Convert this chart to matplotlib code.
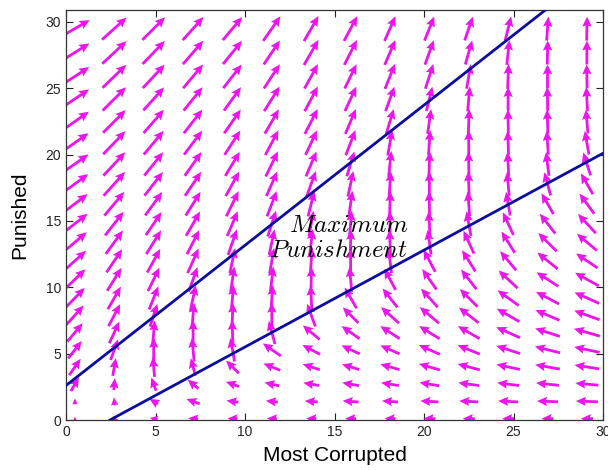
import numpy as np
import matplotlib
matplotlib.use("Agg")
import matplotlib.pyplot as plt

plt.rcParams['mathtext.fontset'] = 'cm'
plt.rcParams['font.family'] = ['Liberation Sans', 'DejaVu Sans']

# grid of arrow centres
x_cols = [0.5, 2.7, 4.9, 7.1, 9.3, 11.5, 13.7, 15.9, 18.1, 20.3, 22.5, 24.7, 26.9, 29.1]
y_rows = [29.5, 27.7, 25.9, 24.2, 22.5, 20.9, 19.3, 17.8, 16.3, 14.8, 13.4,
          12.0, 10.6, 9.2, 7.9, 6.6, 5.3, 4.0, 2.7, 1.4, 0.1]

# arrow direction (degrees, screen space) per column, rows top -> bottom
angle_cols = [
    [30, 32, 33, 34, 35, 35, 35, 36, 37, 38, 40, 42, 44, 46, 48, 50, 52, 55, 60, 90, 90],
    [42, 43, 44, 45, 45, 46, 47, 48, 50, 52, 54, 56, 58, 60, 62, 65, 70, 80, 85, 95, 120],
    [45, 46, 47, 48, 49, 50, 51, 52, 54, 56, 58, 61, 64, 68, 72, 85, 90, 95, 110, 150, 170],
    [48, 49, 50, 51, 52, 53, 55, 56, 58, 60, 63, 66, 70, 78, 85, 90, 95, 105, 140, 160, 175],
    [50, 51, 52, 54, 55, 57, 59, 61, 64, 67, 71, 78, 82, 85, 88, 92, 100, 135, 160, 172, 178],
    [55, 56, 57, 58, 60, 62, 64, 66, 69, 72, 78, 80, 83, 86, 90, 105, 145, 158, 167, 174, 178],
    [60, 60, 61, 62, 63, 65, 67, 70, 76, 80, 83, 86, 89, 93, 110, 140, 152, 162, 170, 176, 179],
    [62, 63, 64, 65, 67, 69, 73, 78, 82, 85, 88, 90, 95, 120, 135, 145, 155, 163, 170, 176, 179],
    [66, 67, 68, 70, 73, 80, 84, 86, 88, 90, 92, 97, 118, 128, 138, 147, 156, 164, 171, 176, 179],
    [68, 70, 72, 76, 82, 86, 88, 90, 91, 93, 98, 118, 125, 132, 140, 148, 156, 164, 171, 177, 179],
    [71, 74, 80, 85, 88, 90, 91, 92, 94, 100, 115, 122, 128, 135, 142, 150, 158, 165, 172, 177, 180],
    [76, 84, 88, 90, 91, 92, 93, 95, 100, 115, 122, 130, 137, 144, 150, 156, 162, 168, 173, 177, 180],
    [86, 89, 90, 91, 92, 94, 97, 105, 120, 128, 135, 141, 147, 152, 157, 162, 166, 170, 174, 178, 180],
    [89, 90, 91, 93, 95, 100, 108, 120, 126, 133, 140, 146, 151, 156, 160, 164, 168, 171, 175, 178, 180],
]

# arrow length (pixels) per column, rows top -> bottom
length_cols = [
    [34, 34, 34, 34, 34, 33, 33, 33, 32, 32, 31, 30, 29, 28, 26, 24, 22, 20, 16, 6, 4],
    [33, 33, 33, 33, 32, 32, 32, 32, 31, 30, 29, 28, 27, 26, 25, 24, 22, 18, 12, 8, 6],
    [32, 32, 32, 31, 31, 31, 30, 30, 29, 28, 28, 27, 26, 25, 24, 24, 24, 20, 14, 10, 8],
    [31, 31, 31, 30, 30, 30, 29, 29, 28, 28, 27, 27, 26, 26, 25, 25, 24, 18, 14, 14, 10],
    [30, 30, 30, 29, 29, 29, 28, 28, 28, 27, 27, 26, 26, 26, 25, 25, 24, 18, 14, 12, 10],
    [30, 29, 29, 29, 28, 28, 28, 27, 27, 27, 26, 26, 26, 26, 25, 24, 22, 18, 15, 12, 10],
    [29, 29, 28, 28, 28, 27, 27, 27, 26, 26, 26, 26, 25, 25, 24, 22, 20, 18, 16, 13, 10],
    [28, 28, 27, 27, 27, 27, 26, 26, 26, 26, 25, 25, 25, 24, 22, 22, 20, 18, 17, 16, 11],
    [27, 27, 27, 26, 26, 26, 26, 25, 25, 25, 25, 25, 24, 24, 24, 23, 21, 20, 18, 16, 11],
    [26, 26, 26, 25, 25, 25, 25, 25, 25, 25, 25, 25, 25, 25, 25, 24, 23, 22, 20, 18, 12],
    [25, 25, 25, 25, 25, 25, 25, 25, 25, 25, 25, 25, 25, 25, 25, 25, 24, 23, 21, 19, 12],
    [25, 25, 25, 24, 24, 24, 24, 24, 24, 25, 25, 25, 26, 26, 26, 26, 25, 24, 22, 20, 12],
    [24, 24, 24, 24, 24, 24, 24, 24, 24, 25, 26, 26, 26, 26, 26, 26, 26, 25, 23, 21, 12],
    [24, 24, 24, 24, 24, 24, 24, 24, 25, 26, 26, 26, 27, 27, 27, 27, 26, 25, 23, 22, 12],
]

# boundary lines
upper_line_x = [0.0, 30.0]
upper_line_y = [2.6, 34.3]
lower_line_x = [2.46, 30.0]
lower_line_y = [0.0, 20.1]

x_ticks = [0, 5, 10, 15, 20, 25, 30]
y_ticks = [0, 5, 10, 15, 20, 25, 30]

fig = plt.figure(figsize=(6.08, 4.70), dpi=100)
ax = fig.add_axes([66 / 608, 50 / 470, 537 / 608, 410 / 470])

X, Y = np.meshgrid(x_cols, y_rows)
A = np.radians(np.array(angle_cols, dtype=float).T)
L = np.array(length_cols, dtype=float).T
U = L * np.cos(A)
V = L * np.sin(A)

ax.quiver(X, Y, U, V, angles='uv', scale_units='dots', scale=1.0,
          pivot='middle', units='dots', width=2.8, headwidth=3.3,
          headlength=3.6, headaxislength=3.2, color='#ee14ee', zorder=2)

ax.plot(upper_line_x, upper_line_y, color='#0c0c9e', lw=2.0, zorder=3)
ax.plot(lower_line_x, lower_line_y, color='#0c0c9e', lw=2.0, zorder=3)

ax.text(15.8, 14.7, r'$Maximum$', fontsize=18, ha='center', va='center', zorder=4)
ax.text(15.2, 12.8, r'$Punishment$', fontsize=18, ha='center', va='center', zorder=4)

ax.set_xlim(0, 30)
ax.set_ylim(0, 30.9)
ax.set_xticks(x_ticks)
ax.set_yticks(y_ticks)
ax.tick_params(direction='in', length=5, top=True, right=True, labelsize=10,
               colors='#222222', width=0.8)
for sp in ax.spines.values():
    sp.set_linewidth(0.9)
    sp.set_color('#333333')

ax.set_xlabel('Most Corrupted', fontsize=15, labelpad=5)
ax.set_ylabel('Punished', fontsize=15, labelpad=12)

fig.savefig('out.png', dpi=100)
